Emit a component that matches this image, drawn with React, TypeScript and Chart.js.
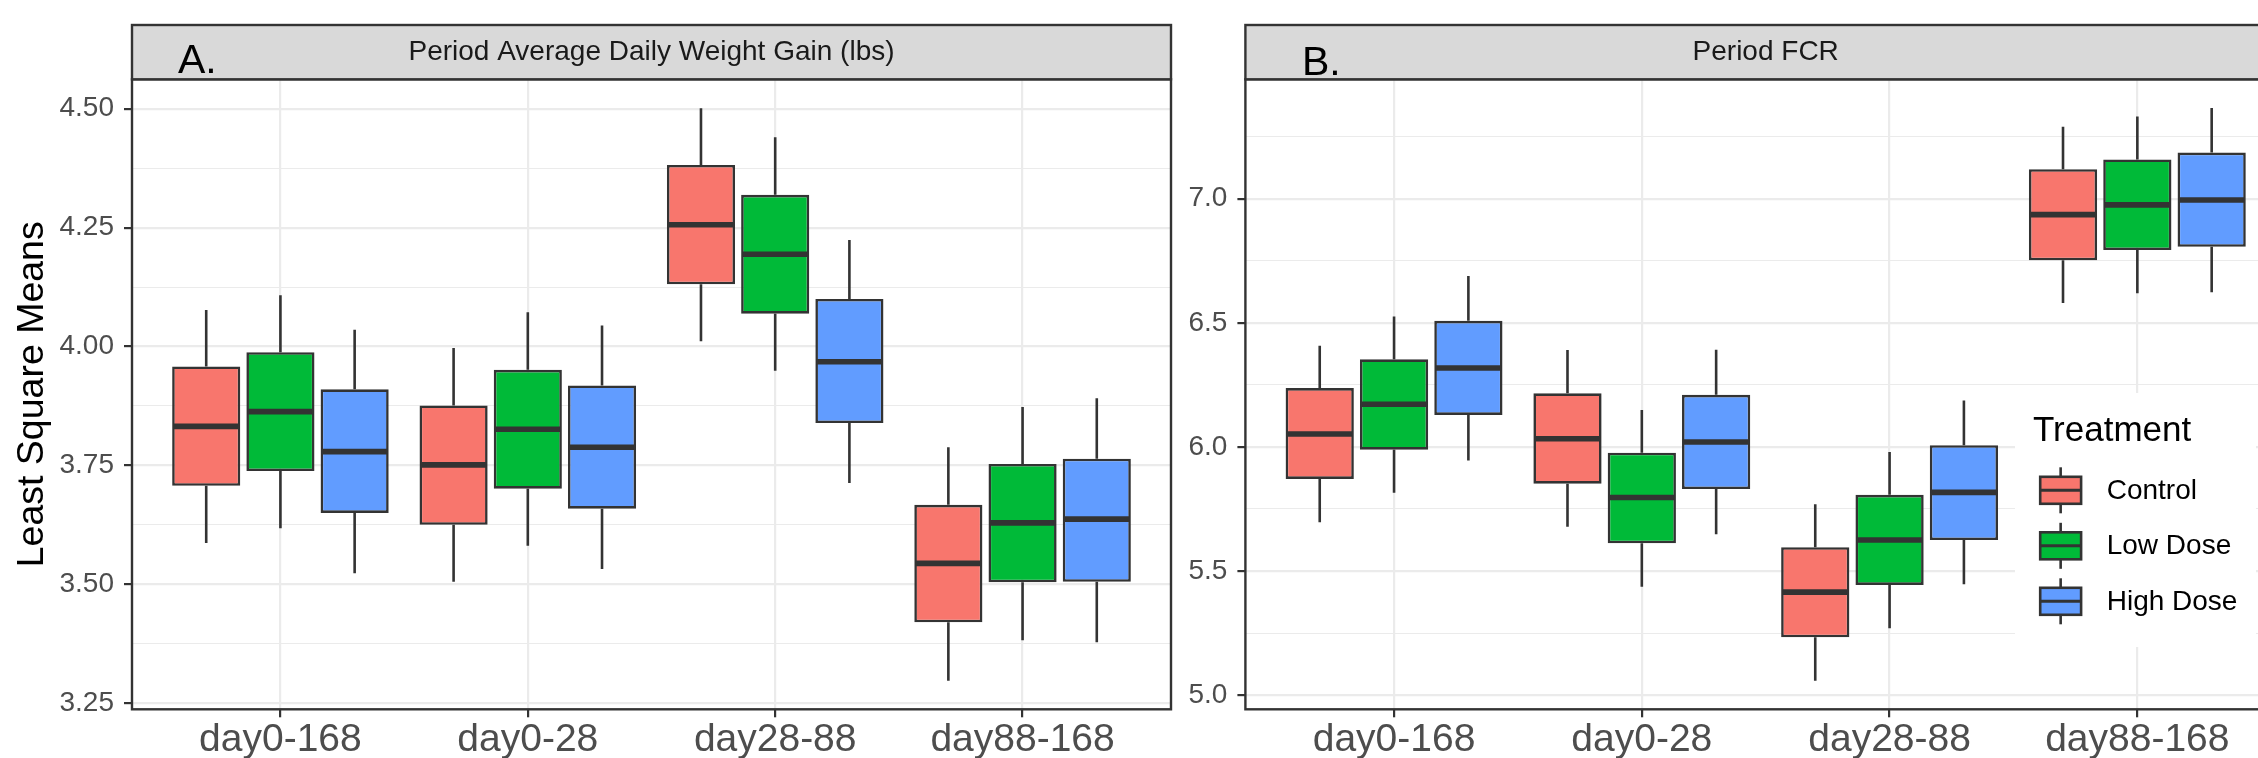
import React, { useEffect, useRef } from 'react';
import { Chart, registerables } from 'chart.js';

Chart.register(...registerables);

// ---------------- data ----------------
const categories = ['day0-168', 'day0-28', 'day28-88', 'day88-168'];
const treatments = ['Control', 'Low Dose', 'High Dose'];
const treatmentColors = ['#F8766D', '#00BA38', '#619CFF'];

// five-number summaries per category: [lower whisker, Q1, median, Q3, upper whisker]
const adgControl = [
  [3.587, 3.707, 3.832, 3.958, 4.077],
  [3.505, 3.625, 3.751, 3.876, 3.997],
  [4.011, 4.131, 4.256, 4.382, 4.501],
  [3.297, 3.42, 3.544, 3.667, 3.788],
];
const adgLowDose = [
  [3.618, 3.738, 3.863, 3.988, 4.108],
  [3.581, 3.701, 3.826, 3.951, 4.072],
  [3.949, 4.069, 4.194, 4.319, 4.44],
  [3.382, 3.504, 3.629, 3.753, 3.873],
];
const adgHighDose = [
  [3.523, 3.65, 3.779, 3.91, 4.035],
  [3.532, 3.659, 3.788, 3.918, 4.044],
  [3.713, 3.839, 3.968, 4.1, 4.224],
  [3.378, 3.505, 3.637, 3.764, 3.891],
];

const fcrControl = [
  [5.697, 5.871, 6.052, 6.237, 6.408],
  [5.678, 5.852, 6.033, 6.216, 6.39],
  [5.058, 5.233, 5.415, 5.596, 5.769],
  [6.58, 6.752, 6.936, 7.119, 7.29],
];
const fcrLowDose = [
  [5.815, 5.989, 6.172, 6.353, 6.525],
  [5.437, 5.612, 5.796, 5.977, 6.149],
  [5.27, 5.444, 5.625, 5.807, 5.98],
  [6.619, 6.793, 6.975, 7.158, 7.331],
];
const fcrHighDose = [
  [5.945, 6.129, 6.318, 6.508, 6.689],
  [5.648, 5.83, 6.02, 6.21, 6.391],
  [5.447, 5.625, 5.817, 6.007, 6.187],
  [6.623, 6.806, 6.995, 7.186, 7.365],
];

const adgMajorTicks = [3.25, 3.5, 3.75, 4.0, 4.25, 4.5];
const adgMinorTicks = [3.375, 3.625, 3.875, 4.125, 4.375];
const adgRange = [3.237, 4.562];

const fcrMajorTicks = [5.0, 5.5, 6.0, 6.5, 7.0];
const fcrMinorTicks = [5.25, 5.75, 6.25, 6.75, 7.25];
const fcrRange = [4.943, 7.481];

const adgTitle = 'Period Average Daily Weight Gain (lbs)';
const fcrTitle = 'Period FCR';
const yAxisTitle = 'Least Square Means';
const legendTitle = 'Treatment';

// ---------------- styling ----------------
const FONT = "'Liberation Sans', Arial, Helvetica, sans-serif";
const DARK = '#333333';
const GRID = '#EBEBEB';
const H = 758;
const PLOT_TOP = 79.3;
const PLOT_BOTTOM = 709.3;
const STRIP_TOP = 25;
const BOX_LINE = 2.6;
const MEDIAN_LINE = 5.6;

type PanelSpec = {
  series: number[][][];
  majors: number[];
  minors: number[];
  range: number[];
  decimals: number;
  strip: string;
  letter: string;
  letterX: number;
  letterBaseline: number;
  yTitle: string | null;
  legend: boolean;
  left: number;
  canvasWidth: number;
  yAxisWidth: number;
  padRight: number;
};

const isIn = (arr: number[], v: number) => arr.some((m) => Math.abs(m - v) < 1e-9);

function makeConfig(spec: PanelSpec): any {
  const datasets = treatments.map((t, ti) => ({
    label: t,
    data: categories.map((_, ci) => ({
      x: ci + 1,
      y: [spec.series[ti][ci][1], spec.series[ti][ci][3]],
    })),
    backgroundColor: treatmentColors[ti],
    borderColor: DARK,
    borderWidth: BOX_LINE,
    borderSkipped: false,
    inflateAmount: 0,
    categoryPercentage: 0.9,
    barPercentage: 0.918,
  }));

  const boxPlugin = {
    id: 'boxWhiskers',
    afterDatasetsDraw(chart: any) {
      const ctx = chart.ctx;
      const ys = chart.scales.y;
      chart.data.datasets.forEach((_: any, di: number) => {
        const meta = chart.getDatasetMeta(di);
        meta.data.forEach((bar: any, i: number) => {
          const s = spec.series[di][i];
          const { x, width } = bar.getProps(['x', 'width'], true);
          const yLow = ys.getPixelForValue(s[0]);
          const yQ1 = ys.getPixelForValue(s[1]);
          const yMed = ys.getPixelForValue(s[2]);
          const yQ3 = ys.getPixelForValue(s[3]);
          const yHigh = ys.getPixelForValue(s[4]);
          ctx.save();
          ctx.strokeStyle = DARK;
          ctx.lineCap = 'butt';
          ctx.lineWidth = BOX_LINE;
          ctx.beginPath();
          ctx.moveTo(x, yQ3);
          ctx.lineTo(x, yHigh);
          ctx.moveTo(x, yQ1);
          ctx.lineTo(x, yLow);
          ctx.stroke();
          ctx.lineWidth = MEDIAN_LINE;
          ctx.beginPath();
          ctx.moveTo(x - width / 2 + 1, yMed);
          ctx.lineTo(x + width / 2 - 1, yMed);
          ctx.stroke();
          ctx.restore();
        });
      });
    },
  };

  const framePlugin = {
    id: 'panelFrame',
    afterDraw(chart: any) {
      const ctx = chart.ctx;
      const { left, top, right, bottom } = chart.chartArea;
      const off = spec.left;
      ctx.save();
      // panel border
      ctx.strokeStyle = DARK;
      ctx.lineWidth = 2.4;
      ctx.strokeRect(left, top, right - left, bottom - top);
      // strip
      ctx.fillStyle = '#D9D9D9';
      ctx.fillRect(left, STRIP_TOP, right - left, top - STRIP_TOP);
      ctx.strokeRect(left, STRIP_TOP, right - left, top - STRIP_TOP);
      ctx.fillStyle = '#1A1A1A';
      ctx.font = `28px ${FONT}`;
      ctx.textAlign = 'center';
      ctx.textBaseline = 'middle';
      ctx.fillText(spec.strip, (left + right) / 2, (STRIP_TOP + top) / 2 + 0.3);
      ctx.fillStyle = '#000000';
      ctx.font = `41px ${FONT}`;
      ctx.textAlign = 'left';
      ctx.textBaseline = 'alphabetic';
      ctx.fillText(spec.letter, spec.letterX - off, spec.letterBaseline);

      if (spec.legend) {
        const lx = 2015 - off;
        const ly = 393;
        ctx.fillStyle = '#FFFFFF';
        ctx.fillRect(lx, ly, 241, 254);
        ctx.fillStyle = '#000000';
        ctx.font = `35px ${FONT}`;
        ctx.textAlign = 'left';
        ctx.textBaseline = 'alphabetic';
        ctx.fillText(legendTitle, 2033 - off, 441);
        treatments.forEach((t, i) => {
          const cy = 490.3 + i * 55.5;
          const bx0 = 2040.2 - off;
          const bx1 = 2081.1 - off;
          const cx = (bx0 + bx1) / 2;
          ctx.strokeStyle = DARK;
          ctx.lineWidth = BOX_LINE;
          ctx.beginPath();
          ctx.moveTo(cx, cy - 23);
          ctx.lineTo(cx, cy + 23);
          ctx.stroke();
          ctx.fillStyle = treatmentColors[i];
          ctx.fillRect(bx0, cy - 13.5, bx1 - bx0, 27);
          ctx.strokeRect(bx0, cy - 13.5, bx1 - bx0, 27);
          ctx.lineWidth = 3;
          ctx.beginPath();
          ctx.moveTo(bx0, cy);
          ctx.lineTo(bx1, cy);
          ctx.stroke();
          ctx.fillStyle = '#000000';
          ctx.font = `28px ${FONT}`;
          ctx.textBaseline = 'middle';
          ctx.fillText(t, 2106.7 - off, cy + 0.5);
        });
      }
      ctx.restore();
    },
  };

  const allYTicks = [...spec.majors, ...spec.minors].sort((a, b) => a - b);

  return {
    type: 'bar',
    data: { datasets },
    plugins: [boxPlugin, framePlugin],
    options: {
      responsive: false,
      maintainAspectRatio: false,
      animation: false,
      devicePixelRatio: 1,
      events: [],
      layout: { padding: { left: 0, top: PLOT_TOP, right: spec.padRight, bottom: 0 } },
      plugins: { legend: { display: false }, tooltip: { enabled: false }, title: { display: false } },
      scales: {
        x: {
          type: 'linear',
          min: 0.4,
          max: 4.6,
          bounds: 'data',
          offset: false,
          afterBuildTicks: (s: any) => {
            s.ticks = categories.map((_, i) => ({ value: i + 1 }));
          },
          ticks: {
            callback: (v: any) => categories[Math.round(Number(v)) - 1] ?? '',
            font: { family: FONT, size: 39 },
            color: '#4D4D4D',
            padding: 0,
            maxRotation: 0,
            minRotation: 0,
            autoSkip: false,
          },
          grid: {
            offset: false,
            color: GRID,
            lineWidth: 2.2,
            drawTicks: true,
            tickLength: 8,
            tickColor: DARK,
            tickWidth: 2.2,
          },
          border: { display: false },
          afterFit: (s: any) => {
            s.height = H - PLOT_BOTTOM;
          },
        },
        y: {
          type: 'linear',
          min: spec.range[0],
          max: spec.range[1],
          bounds: 'data',
          beginAtZero: false,
          afterBuildTicks: (s: any) => {
            s.ticks = allYTicks.map((v) => ({ value: v }));
          },
          ticks: {
            callback: (v: any) => (isIn(spec.majors, Number(v)) ? Number(v).toFixed(spec.decimals) : ''),
            font: { family: FONT, size: 28 },
            color: '#4D4D4D',
            padding: 10,
            autoSkip: false,
          },
          grid: {
            color: GRID,
            lineWidth: (c: any) => (c.tick && isIn(spec.majors, c.tick.value) ? 2.2 : 1.1),
            drawTicks: true,
            tickLength: 8,
            tickColor: (c: any) => (c.tick && isIn(spec.majors, c.tick.value) ? DARK : 'rgba(0,0,0,0)'),
            tickWidth: 2.2,
          },
          border: { display: false },
          title: spec.yTitle
            ? {
                display: true,
                text: spec.yTitle,
                color: '#000000',
                font: { family: FONT, size: 37.5 },
                padding: { top: 10.3, bottom: 0 },
              }
            : { display: false },
          afterFit: (s: any) => {
            s.width = spec.yAxisWidth;
          },
        },
      },
    },
  };
}

const panelA: PanelSpec = {
  series: [adgControl, adgLowDose, adgHighDose],
  majors: adgMajorTicks,
  minors: adgMinorTicks,
  range: adgRange,
  decimals: 2,
  strip: adgTitle,
  letter: 'A.',
  letterX: 178,
  letterBaseline: 72.7,
  yTitle: yAxisTitle,
  legend: false,
  left: 0,
  canvasWidth: 1185,
  yAxisWidth: 132,
  padRight: 14,
};

const panelB: PanelSpec = {
  series: [fcrControl, fcrLowDose, fcrHighDose],
  majors: fcrMajorTicks,
  minors: fcrMinorTicks,
  range: fcrRange,
  decimals: 1,
  strip: fcrTitle,
  letter: 'B.',
  letterX: 1302,
  letterBaseline: 75,
  yTitle: null,
  legend: true,
  left: 1185,
  canvasWidth: 1115,
  yAxisWidth: 1245.4 - 1185,
  padRight: 14,
};

function Panel({ spec }: { spec: PanelSpec }) {
  const ref = useRef<HTMLCanvasElement | null>(null);
  useEffect(() => {
    if (!ref.current) return;
    const cfg = makeConfig(spec);
    const chart = new Chart(ref.current, cfg);
    return () => chart.destroy();
  }, [spec]);
  return (
    <canvas
      ref={ref}
      width={spec.canvasWidth}
      height={H}
      style={{ position: 'absolute', left: spec.left, top: 0, width: spec.canvasWidth, height: H }}
    />
  );
}

export default function App() {
  return (
    <div
      style={{
        position: 'fixed',
        left: 0,
        top: 0,
        width: 2258,
        height: H,
        overflow: 'hidden',
        background: '#FFFFFF',
      }}
    >
      <Panel spec={panelA} />
      <Panel spec={panelB} />
    </div>
  );
}
